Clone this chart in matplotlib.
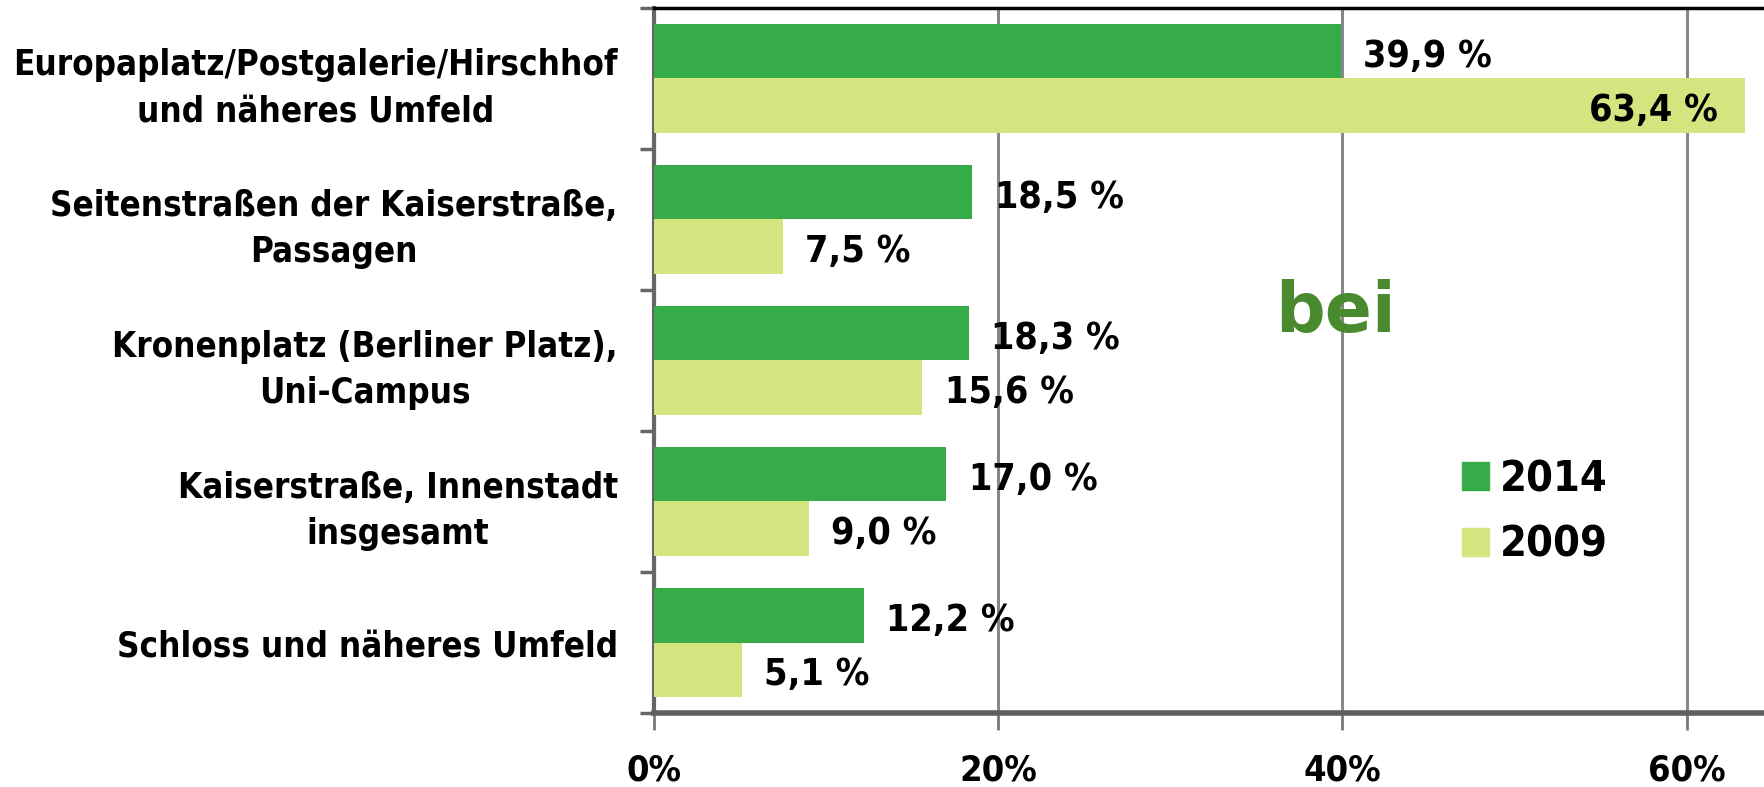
import numpy as np
import matplotlib
matplotlib.use('Agg')
from matplotlib import pyplot as plt
from matplotlib.patches import Patch

plt.rcParams['font.family'] = ['DejaVu Sans']
plt.rcParams['font.stretch'] = 'condensed'
plt.rcParams['font.weight'] = 'bold'

categories = ['Europaplatz/Postgalerie/Hirschhof\nund näheres Umfeld',
              'Seitenstraßen der Kaiserstraße,\nPassagen',
              'Kronenplatz (Berliner Platz),\nUni-Campus',
              'Kaiserstraße, Innenstadt\ninsgesamt',
              'Schloss und näheres Umfeld']
values_2014 = [39.9, 18.5, 18.3, 17.0, 12.2]
values_2009 = [63.4, 7.5, 15.6, 9.0, 5.1]
xticks = [0, 20, 40, 60]
xtick_labels = ['0%', '20%', '40%', '60%']

GREEN = '#36ac48'
LIGHT = '#d4e47f'

fig = plt.figure(figsize=(17.64, 7.87), dpi=100)
ax = fig.add_axes([0.3707, 0.094, 0.6293, 0.896])

n = len(categories)
y = np.arange(n)
h = 0.385
ax.barh(y - h / 2, values_2014, height=h, color=GREEN, zorder=3)
ax.barh(y + h / 2, values_2009, height=h, color=LIGHT, zorder=3)

ax.set_xlim(0, 64.5)
ax.set_ylim(n - 0.5, -0.5)

# value labels
def fmt(v):
    return f'{v:.1f} %'.replace('.', ',')

for i in range(n):
    ax.text(values_2014[i] + 1.3, y[i] - h / 2 + 0.04, fmt(values_2014[i]),
            va='center', ha='left', fontsize=27, zorder=4)
    v = values_2009[i]
    if v > 50:
        ax.text(v - 1.6, y[i] + h / 2 + 0.04, fmt(v),
                va='center', ha='right', fontsize=27, zorder=4)
    else:
        ax.text(v + 1.3, y[i] + h / 2 + 0.04, fmt(v),
                va='center', ha='left', fontsize=27, zorder=4)

ax.text(39.6, 1.66, 'bei', color='#4a8a2e', fontsize=50, fontweight='bold',
        fontstretch='normal', ha='center', va='center')

# axes styling
ax.set_yticks(np.arange(n + 1) - 0.5)
ax.set_yticklabels([])
ax.set_yticks(y, minor=True)
ax.set_yticklabels(categories, minor=True, fontsize=25,
                   multialignment='center', linespacing=1.45)
ax.tick_params(axis='y', which='minor', length=0, pad=26)
ax.tick_params(axis='y', which='major', length=10, width=2.5, color='#666666', direction='out')

ax.set_xticks(xticks)
ax.set_xticklabels(xtick_labels, fontsize=26)
ax.tick_params(axis='x', length=12, width=2, color='#777777', pad=17)

ax.grid(axis='x', color='#888888', linewidth=2.2, zorder=0)
ax.spines['left'].set_color('#666666')
ax.spines['left'].set_linewidth(3)
ax.spines['bottom'].set_color('#5f5f5f')
ax.spines['bottom'].set_linewidth(4)
ax.spines['top'].set_color('black')
ax.spines['top'].set_linewidth(2.5)
ax.spines['right'].set_visible(False)

handles = [Patch(color=GREEN, label='2014'), Patch(color=LIGHT, label='2009')]
fig.legend(handles=handles, loc='upper left', bbox_to_anchor=(0.807, 0.467),
           frameon=False, handlelength=0.62, handleheight=0.62,
           handletextpad=0.25, labelspacing=0.55, prop={'weight': 'bold', 'size': 31})

fig.savefig('out.png', dpi=100)
